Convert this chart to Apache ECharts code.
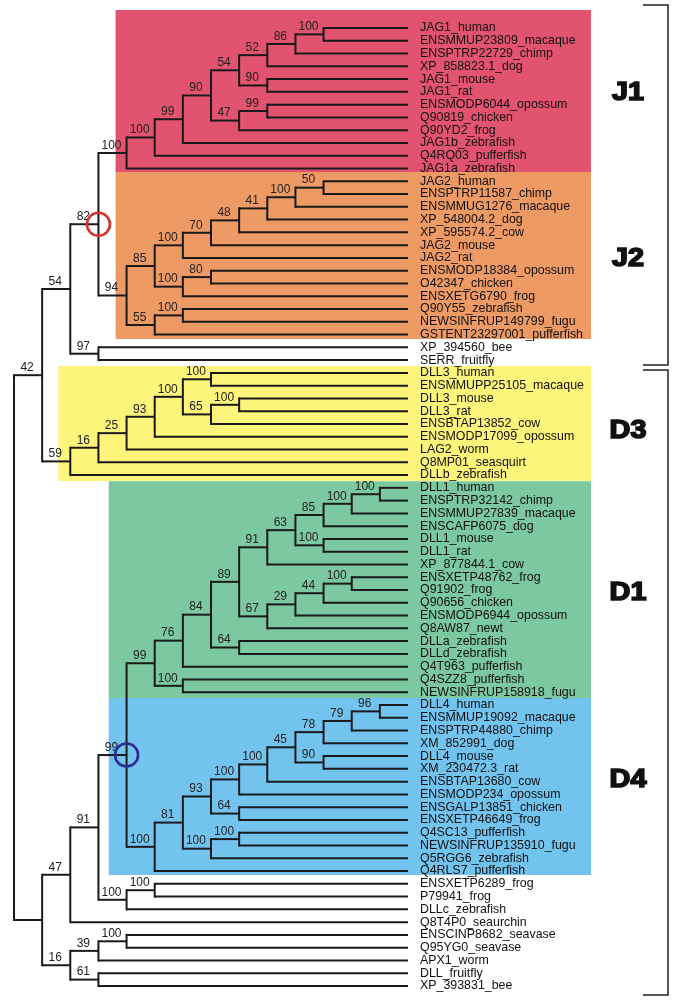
<!DOCTYPE html>
<html>
<head>
<meta charset="utf-8">
<script src="https://cdn.jsdelivr.net/npm/echarts@6/dist/echarts.min.js"></script>
<style>
html,body{margin:0;padding:0;background:#fff;}
#chart{width:685px;height:1007px;}
</style>
</head>
<body>
<div id="chart"></div>
<script>
// ---------------- DATA ----------------
// Clades in Newick form: leaf names, bootstrap support after each ")"
const cladeJ1 = "((((((((JAG1_human,ENSMMUP23809_macaque)100,ENSPTRP22729_chimp)86,XP_858823.1_dog)52,(JAG1_mouse,JAG1_rat)90)54,((ENSMODP6044_opossum,Q90819_chicken)99,Q90YD2_frog)47)90,JAG1b_zebrafish)99,Q4RQ03_pufferfish)100,JAG1a_zebrafish)100";
const cladeJ2 = "((((((((JAG2_human,ENSPTRP11587_chimp)50,ENSMMUG1276_macaque)100,XP_548004.2_dog)41,XP_595574.2_cow)48,JAG2_mouse)70,JAG2_rat)100,((ENSMODP18384_opossum,O42347_chicken)80,ENSXETG6790_frog)100)85,((Q90Y55_zebrafish,NEWSINFRUP149799_fugu)100,GSTENT23297001_pufferfish)55)94";
const cladeSerrate = "(XP_394560_bee,SERR_fruitfly)97";
const cladeD3 = "((((((DLL3_human,ENSMMUPP25105_macaque)100,((DLL3_mouse,DLL3_rat)100,ENSBTAP13852_cow)65)100,ENSMODP17099_opossum)93,LAG2_worm)25,Q8MP01_seasquirt)16,DLLb_zebrafish)59";
const cladeD1 = "(((((((((DLL1_human,ENSPTRP32142_chimp)100,ENSMMUP27839_macaque)100,ENSCAFP6075_dog)85,(DLL1_mouse,DLL1_rat)100)63,XP_877844.1_cow)91,((((ENSXETP48762_frog,Q91902_frog)100,Q90656_chicken)44,ENSMODP6944_opossum)29,Q8AW87_newt)67)89,(DLLa_zebrafish,DLLd_zebrafish)64)84,Q4T963_pufferfish)76,(Q4SZZ8_pufferfish,NEWSINFRUP158918_fugu)100)99";
const cladeD4 = "(((((((((DLL4_human,ENSMMUP19092_macaque)96,ENSPTRP44880_chimp)79,XM_852991_dog)78,(DLL4_mouse,XM_230472.3_rat)90)45,ENSBTAP13680_cow)100,ENSMODP234_opossum)100,(ENSGALP13851_chicken,ENSXETP46649_frog)64)93,((Q4SC13_pufferfish,NEWSINFRUP135910_fugu)100,Q5RGG6_zebrafish)100)81,Q4RLS7_pufferfish)100";
const cladeDllOther = "((ENSXETP6289_frog,P79941_frog)100,DLLc_zebrafish)100";
const cladeBasal = "(((ENSCINP8682_seavase,Q95YG0_seavase)100,APX1_worm)39,(DLL_fruitfly,XP_393831_bee)61)16";

const treeNewick =
  "((((" + cladeJ1 + "," + cladeJ2 + ")82," + cladeSerrate + ")54," + cladeD3 + ")42," +
  "((((" + cladeD1 + "," + cladeD4 + ")99," + cladeDllOther + ")91,Q8T4P0_seaurchin)47," + cladeBasal + "))";

// Shaded groups: label, first leaf, last leaf
const groupNames = ["J1", "J2", "D3", "D1", "D4"];
const groupFirst = ["JAG1_human", "JAG2_human", "DLL3_human", "DLL1_human", "DLL4_human"];
const groupLast  = ["JAG1a_zebrafish", "GSTENT23297001_pufferfish", "DLLb_zebrafish", "NEWSINFRUP158918_fugu", "Q4RLS7_pufferfish"];

// Brackets on the right: first leaf, last leaf
const bracketFirst = ["JAG1_human", "DLL3_human"];
const bracketLast  = ["SERR_fruitfly", "XP_393831_bee"];

// Circled nodes (defined by first and last leaf of the clade)
const circleFirst = ["JAG1_human", "DLL1_human"];
const circleLast  = ["GSTENT23297001_pufferfish", "Q4RLS7_pufferfish"];

// ---------------- TREE PARSING / LAYOUT ----------------
function parseNewick(s) {
  let i = 0;
  function node() {
    const n = { children: [] };
    if (s[i] === "(") {
      i++;
      n.children.push(node());
      while (s[i] === ",") { i++; n.children.push(node()); }
      i++; // ')'
    }
    const start = i;
    while (i < s.length && ",();".indexOf(s[i]) < 0) i++;
    const lab = s.slice(start, i);
    if (n.children.length) n.support = lab; else n.name = lab;
    return n;
  }
  return node();
}

const root = parseNewick(treeNewick);
const leaves = [];
const nodes = [];
let MAXD = 0;
(function depthPass(n, d) {
  n.d = d;
  if (n.children.length) n.children.forEach(c => depthPass(c, d + 1));
  else MAXD = Math.max(MAXD, d);
})(root, 0);
(function walk(n, parent) {
  n.parent = parent;
  if (!n.children.length) {
    n.depth = MAXD;
    n.y = leaves.length; n.lo = n.hi = n.y;
    leaves.push(n.name);
  } else {
    n.depth = n.d;
    n.children.forEach(c => walk(c, n));
    const f = n.children[0], l = n.children[n.children.length - 1];
    n.y = (f.y + l.y) / 2; n.lo = f.lo; n.hi = l.hi;
  }
  nodes.push(n);
})(root, null);

const leafIdx = name => leaves.indexOf(name);
function cladeNode(a, b) {
  const lo = leafIdx(a), hi = leafIdx(b);
  return nodes.find(n => n.lo === lo && n.hi === hi && n.children.length);
}

// ---------------- STYLE ----------------
const FONT = "'Liberation Sans', Arial, sans-serif";
const LINE = "#1a1a1a";
const groupColors = ["#E2536F", "#EE9A65", "#FCF47B", "#7CC8A1", "#73C3EF"];
const groupLeftPad = [11, 11, 12, 46, 46];      // px left of clade node
const groupPadTop = [18, 9.3, 6.8, 6.7, 7];
const groupPadBottom = [3.5, 4.5, 6, 6, 4];
const groupLabelDy = [-5, 1, 7, 3, -8];
const circleColors = ["#D7322B", "#2A2C8E"];

const chart = echarts.init(document.getElementById("chart"), null, { renderer: "canvas" });

function boxRender(params, api) {
  const i = params.dataIndex;
  const cn = cladeNode(groupFirst[i], groupLast[i]);
  const tipX = api.coord([MAXD, 0])[0];
  const left = api.coord([cn.depth, 0])[0] - groupLeftPad[i];
  const right = tipX + 183;
  const y1 = api.coord([0, leafIdx(groupFirst[i])])[1];
  const y2 = api.coord([0, leafIdx(groupLast[i])])[1];
  const top = y1 - groupPadTop[i];
  const bottom = y2 + groupPadBottom[i];
  const midY = (y1 + y2) / 2 + groupLabelDy[i];
  return {
    type: "group",
    children: [
      { type: "rect", shape: { x: left, y: top, width: right - left, height: bottom - top },
        style: { fill: groupColors[i] } },
      { type: "text", x: tipX + 220, y: midY, scaleX: 1.15,
        style: { text: groupNames[i], fill: "#111", stroke: "#111", lineWidth: 1.6,
          fontSize: 25, fontWeight: "bold", fontFamily: FONT,
          align: "center", verticalAlign: "middle", textAlign: "center", textVerticalAlign: "middle" } }
    ]
  };
}

function treeRender(params, api) {
  const n = nodes[params.dataIndex];
  const els = [];
  const pt = api.coord([n.depth, n.y]);
  if (n.parent) {
    const pp = api.coord([n.parent.depth, n.y]);
    els.push({ type: "line", shape: { x1: pp[0], y1: pp[1], x2: pt[0], y2: pt[1] },
      style: { stroke: LINE, lineWidth: 2 } });
    if (n.support) {
      els.push({ type: "text", x: (pp[0] + pt[0]) / 2 - 1, y: pt[1] - 1.5,
        style: { text: n.support, fill: "#222", fontSize: 12, fontFamily: FONT,
          align: "center", verticalAlign: "bottom", textAlign: "center", textVerticalAlign: "bottom" } });
    }
  }
  if (n.children.length) {
    const a = api.coord([n.depth, n.children[0].y]);
    const b = api.coord([n.depth, n.children[n.children.length - 1].y]);
    els.push({ type: "line", shape: { x1: a[0], y1: a[1], x2: b[0], y2: b[1] },
      style: { stroke: LINE, lineWidth: 2, lineCap: "square" } });
  }
  return { type: "group", children: els };
}

function bracketRender(params, api) {
  const i = params.dataIndex;
  const tipX = api.coord([MAXD, 0])[0];
  const x = tipX + 260, x0 = tipX + 235;
  const pads = [[23, 5], [3, 9]];
  const top = api.coord([0, leafIdx(bracketFirst[i])])[1] - pads[i][0];
  const bot = api.coord([0, leafIdx(bracketLast[i])])[1] + pads[i][1];
  return { type: "polyline", shape: { points: [[x0, top], [x, top], [x, bot], [x0, bot]] },
    style: { stroke: "#222", lineWidth: 1.5, fill: null } };
}

function circleRender(params, api) {
  const i = params.dataIndex;
  const cn = cladeNode(circleFirst[i], circleLast[i]);
  const c = api.coord([cn.depth, cn.y]);
  return { type: "circle", shape: { cx: c[0], cy: c[1], r: 11.5 },
    style: { fill: null, stroke: circleColors[i], lineWidth: 2.6 } };
}

chart.setOption({
  backgroundColor: "#fff",
  animation: false,
  grid: { left: 14, right: 685 - 408, top: 28, bottom: 21, containLabel: false },
  xAxis: { type: "value", min: 0, max: MAXD, show: false },
  yAxis: [
    { type: "value", min: 0, max: leaves.length - 1, inverse: true, show: false },
    { type: "category", data: leaves, position: "right", inverse: true, boundaryGap: false, z: 10,
      axisLine: { show: false }, axisTick: { show: false }, splitLine: { show: false },
      axisLabel: { interval: 0, margin: 12, fontSize: 12.4, color: "#111", fontFamily: FONT } }
  ],
  series: [
    { type: "custom", coordinateSystem: "cartesian2d", yAxisIndex: 0, z: 1, clip: false,
      data: groupNames.map((g, i) => [0, i]), renderItem: boxRender, silent: true },
    { type: "custom", coordinateSystem: "cartesian2d", yAxisIndex: 0, z: 2, clip: false,
      data: nodes.map(n => [n.depth, n.y]), renderItem: treeRender, silent: true },
    { type: "custom", coordinateSystem: "cartesian2d", yAxisIndex: 0, z: 3, clip: false,
      data: bracketFirst.map((b, i) => [0, i]), renderItem: bracketRender, silent: true },
    { type: "custom", coordinateSystem: "cartesian2d", yAxisIndex: 0, z: 4, clip: false,
      data: circleFirst.map((b, i) => [0, i]), renderItem: circleRender, silent: true }
  ]
});
</script>
</body>
</html>
